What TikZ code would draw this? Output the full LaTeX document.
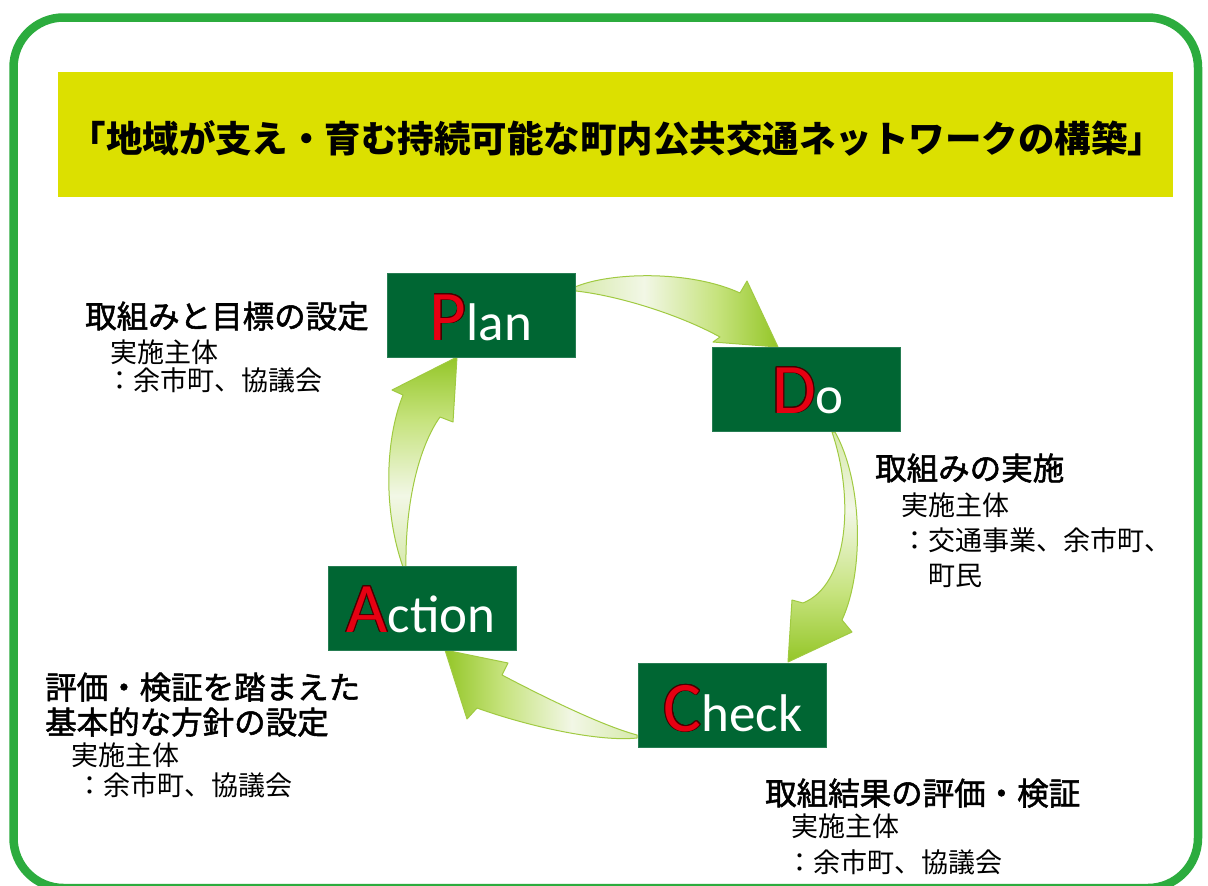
\documentclass[tikz,border=0pt]{standalone}
\usepackage{fontspec}
\setmainfont{Noto Sans CJK JP}
\newfontfamily\medfont{Noto Sans CJK JP}[FakeBold=1.7]
\newfontfamily\latf{Carlito}
\usepackage{contour}
\contourlength{0.9pt}
\definecolor{bordergreen}{RGB}{44,172,62}
\definecolor{bannercol}{RGB}{220,224,0}
\definecolor{boxgreen}{RGB}{0,102,51}
\definecolor{pdcared}{RGB}{230,0,18}
\definecolor{pdcaedge}{RGB}{70,0,0}
\definecolor{arrline}{RGB}{160,202,65}
\definecolor{headc}{RGB}{148,198,40}
\definecolor{midc}{RGB}{198,227,125}
\definecolor{whc}{RGB}{242,247,230}
\definecolor{tailc}{RGB}{215,234,172}
\pgfdeclarehorizontalshading{arrsh}{100bp}{color(0bp)=(headc); color(25bp)=(headc); color(40bp)=(midc); color(58bp)=(whc); color(75bp)=(tailc); color(100bp)=(tailc)}
\newcommand\capl[1]{{\fontsize{71}{71}\selectfont\color{pdcared}\contour{pdcaedge}{#1}}}
\begin{document}
\begin{tikzpicture}[x=1pt,y=-1pt,
  pbox/.style={fill=boxgreen, draw=boxgreen!85!white, line width=0.6pt, minimum width=188pt, minimum height=84pt, inner sep=0pt},
  cyclearrow/.style={shading=arrsh, draw=arrline, line width=1pt, line join=round},
  headlbl/.style={anchor=base west, inner sep=0pt, font=\medfont\fontsize{31.5}{31.5}\selectfont},
  sublbl/.style={anchor=base west, inner sep=0pt, font=\fontsize{27}{27}\selectfont},
  pdcatext/.style={anchor=base, inner sep=0pt, text=white, font=\latf\fontsize{53}{53}\selectfont}]
\useasboundingbox (0,0) rectangle (1208,886);
\fill[white] (0,0) rectangle (1208,886);
% frame
\draw[bordergreen, line width=8.5pt, rounded corners=50pt] (13.5,17.5) rectangle (1198,888);
% banner
\node (banner) [fill=bannercol, minimum width=1115pt, minimum height=125pt, inner sep=0pt] at (615.5,134.5) {};
\node (title) [inner sep=0pt, font=\fontsize{36.5}{36.5}\selectfont\bfseries] at (617,138) {「地域が支え・育む持続可能な町内公共交通ネットワークの構築」};
% cycle arrows
\shadedraw[cyclearrow, shading angle=180]
  (575,287) .. controls (610,272) and (690,270) .. (740,293) -- (747,281) -- (778,347) -- (713,342) -- (720,337)
  .. controls (680,315) and (620,296) .. (576,291) -- cycle;
\shadedraw[cyclearrow, shading angle=90]
  (835,432) .. controls (862,480) and (865,570) .. (842,620) -- (852,632) -- (788,662) -- (792,600) -- (803,603)
  .. controls (848,585) and (855,500) .. (832,432) -- cycle;
\shadedraw[cyclearrow, shading angle=0]
  (637,738) .. controls (600,742) and (530,727) .. (477,708) -- (467,719) -- (445,650) -- (508,663) -- (502,675)
  .. controls (540,695) and (600,725) .. (637,735) -- cycle;
\shadedraw[cyclearrow, shading angle=270]
  (403,567) .. controls (383,510) and (385,440) .. (403,395) -- (392,390) -- (457,357) -- (453,422) -- (440,417)
  .. controls (420,445) and (405,500) .. (406,567) -- cycle;
% PDCA boxes
\node (plan) [pbox] at (481,315) {};
\node (do) [pbox] at (806.5,389.5) {};
\node (check) [pbox] at (732.5,705.5) {};
\node (action) [pbox] at (422,608.5) {};
\node (plant) [pdcatext] at (481,340) {\capl{P}lan};
\node (dot) [pdcatext] at (808,413) {\capl{D}o};
\node (checkt) [pdcatext] at (733,731) {\capl{C}heck};
\node (actiont) [pdcatext] at (421,632) {\capl{A}ction};
% labels
\node (planh) [headlbl] at (85,328) {取組みと目標の設定};
\node (plans1) [sublbl] at (110.5,362) {実施主体};
\node (plans2) [sublbl] at (106,390) {：余市町、協議会};
\node (doh) [headlbl] at (875,480) {取組みの実施};
\node (dos1) [sublbl] at (901,515) {実施主体};
\node (dos2) [sublbl] at (901.5,550) {：交通事業、余市町、};
\node (dos3) [sublbl] at (928,585) {町民};
\node (acth1) [headlbl] at (45,699) {評価・検証を踏まえた};
\node (acth2) [headlbl] at (45,734) {基本的な方針の設定};
\node (acts1) [sublbl] at (71,765) {実施主体};
\node (acts2) [sublbl] at (76.5,795) {：余市町、協議会};
\node (chkh) [headlbl] at (765,805) {取組結果の評価・検証};
\node (chks1) [sublbl] at (791,836) {実施主体};
\node (chks2) [sublbl] at (786.5,872) {：余市町、協議会};
\end{tikzpicture}
\end{document}
